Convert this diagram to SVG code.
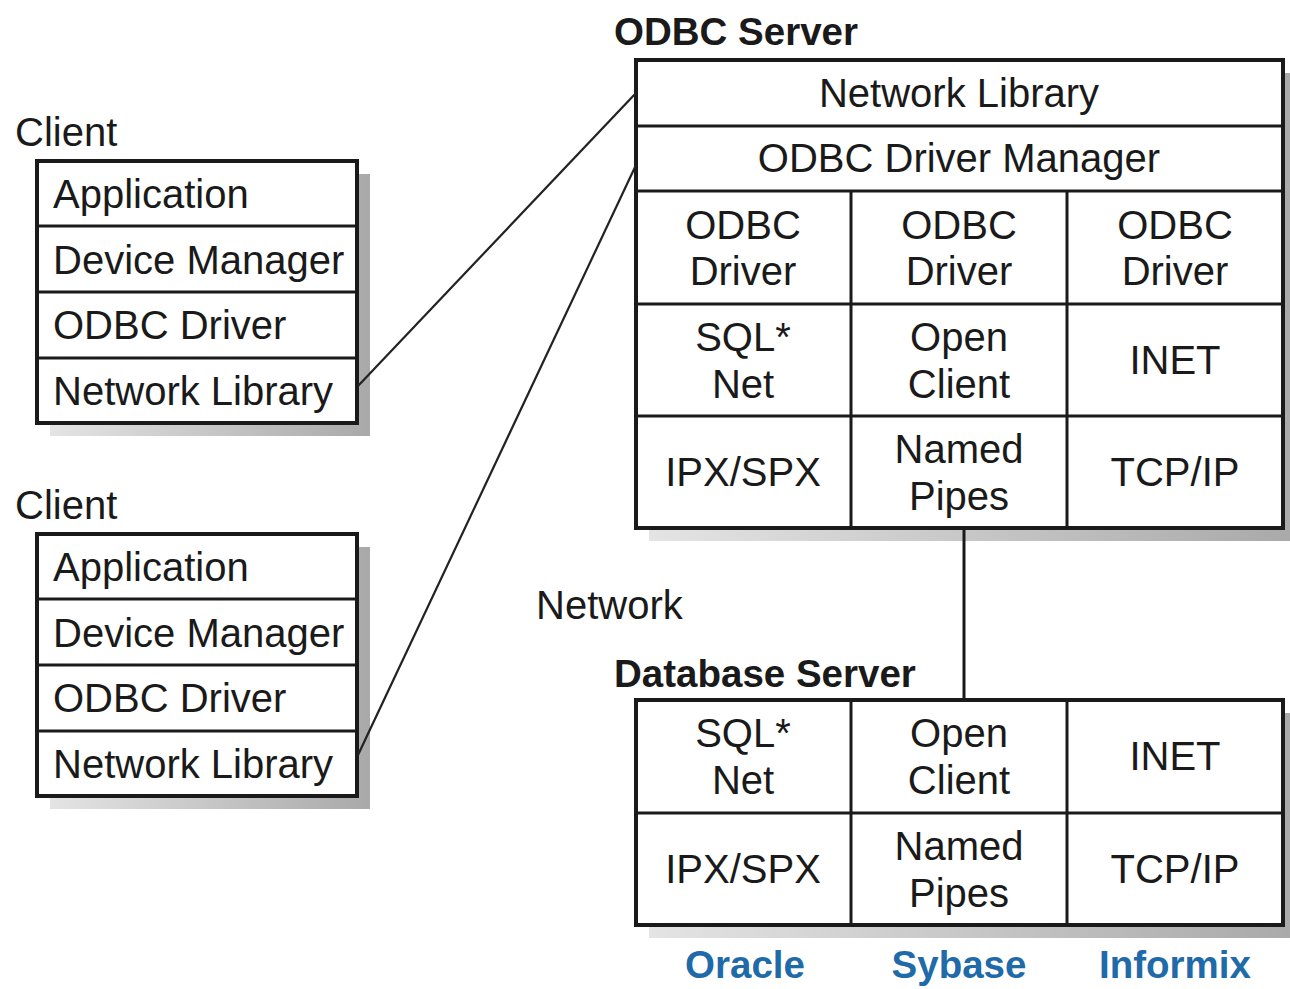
<svg xmlns="http://www.w3.org/2000/svg" width="1290" height="989" viewBox="0 0 1290 989">
<style>
.t{font-family:"Liberation Sans",Arial,sans-serif;font-size:40px;fill:#1a1a1a}
.c{text-anchor:middle}
.b{font-family:"Liberation Sans",Arial,sans-serif;font-size:38.5px;font-weight:bold;fill:#1a1a1a}
.blue{font-family:"Liberation Sans",Arial,sans-serif;font-size:38.5px;font-weight:bold;fill:#1f6aa8;text-anchor:middle}
.box{fill:#fff;stroke:#1a1a1a;stroke-width:4}
.ln{stroke:#1a1a1a;stroke-width:3;fill:none}
.conn{stroke:#222;stroke-width:2.2;fill:none}
</style>
<defs>
<linearGradient id="sh" x1="0" y1="0" x2="1" y2="0">
<stop offset="0" stop-color="#e4e4e4"/>
<stop offset="1" stop-color="#a9a9a9"/>
</linearGradient>
</defs>
<rect width="1290" height="989" fill="#fff"/>

<g id="client1">
<text class="t" x="15" y="146">Client</text>
<rect x="50" y="174" width="320" height="262" fill="url(#sh)"/>
<rect class="box" x="37" y="161" width="320" height="262"/>
<line class="ln" x1="37" y1="226" x2="357" y2="226"/>
<line class="ln" x1="37" y1="292" x2="357" y2="292"/>
<line class="ln" x1="37" y1="358" x2="357" y2="358"/>
<text class="t" x="53" y="208">Application</text>
<text class="t" x="53" y="274">Device Manager</text>
<text class="t" x="53" y="339">ODBC Driver</text>
<text class="t" x="53" y="405">Network Library</text>
</g>

<g id="client2">
<text class="t" x="15" y="519">Client</text>
<rect x="50" y="547" width="320" height="262" fill="url(#sh)"/>
<rect class="box" x="37" y="534" width="320" height="262"/>
<line class="ln" x1="37" y1="599" x2="357" y2="599"/>
<line class="ln" x1="37" y1="665" x2="357" y2="665"/>
<line class="ln" x1="37" y1="731" x2="357" y2="731"/>
<text class="t" x="53" y="581">Application</text>
<text class="t" x="53" y="647">Device Manager</text>
<text class="t" x="53" y="712">ODBC Driver</text>
<text class="t" x="53" y="778">Network Library</text>
</g>

<g id="odbc-server">
<text class="b" x="614" y="45">ODBC Server</text>
<rect x="649" y="73" width="647" height="468" fill="url(#sh)"/>
<rect class="box" x="636" y="60" width="647" height="468"/>
<line class="ln" x1="636" y1="126" x2="1283" y2="126"/>
<line class="ln" x1="636" y1="191" x2="1283" y2="191"/>
<line class="ln" x1="636" y1="304" x2="1283" y2="304"/>
<line class="ln" x1="636" y1="416" x2="1283" y2="416"/>
<line class="ln" x1="851" y1="191" x2="851" y2="528"/>
<line class="ln" x1="1067" y1="191" x2="1067" y2="528"/>
<text class="t c" x="959" y="107">Network Library</text>
<text class="t c" x="959" y="172">ODBC Driver Manager</text>
<text class="t c" x="743" y="239">ODBC</text>
<text class="t c" x="743" y="285">Driver</text>
<text class="t c" x="959" y="239">ODBC</text>
<text class="t c" x="959" y="285">Driver</text>
<text class="t c" x="1175" y="239">ODBC</text>
<text class="t c" x="1175" y="285">Driver</text>
<text class="t c" x="743" y="351">SQL*</text>
<text class="t c" x="743" y="398">Net</text>
<text class="t c" x="959" y="351">Open</text>
<text class="t c" x="959" y="398">Client</text>
<text class="t c" x="1175" y="374">INET</text>
<text class="t c" x="743" y="486">IPX/SPX</text>
<text class="t c" x="959" y="463">Named</text>
<text class="t c" x="959" y="510">Pipes</text>
<text class="t c" x="1175" y="486">TCP/IP</text>
</g>

<g id="network-label">
<text class="t" x="536" y="619">Network</text>
</g>

<g id="database-server">
<text class="b" x="614" y="687">Database Server</text>
<rect x="649" y="713" width="647" height="225" fill="url(#sh)"/>
<rect class="box" x="636" y="700" width="647" height="225"/>
<line class="ln" x1="636" y1="813" x2="1283" y2="813"/>
<line class="ln" x1="851" y1="700" x2="851" y2="925"/>
<line class="ln" x1="1067" y1="700" x2="1067" y2="925"/>
<text class="t c" x="743" y="747">SQL*</text>
<text class="t c" x="743" y="794">Net</text>
<text class="t c" x="959" y="747">Open</text>
<text class="t c" x="959" y="794">Client</text>
<text class="t c" x="1175" y="770">INET</text>
<text class="t c" x="743" y="883">IPX/SPX</text>
<text class="t c" x="959" y="860">Named</text>
<text class="t c" x="959" y="907">Pipes</text>
<text class="t c" x="1175" y="883">TCP/IP</text>
</g>

<g id="vendors">
<text class="blue" x="745" y="978">Oracle</text>
<text class="blue" x="959" y="978">Sybase</text>
<text class="blue" x="1175" y="978">Informix</text>
</g>

<g id="connectors">
<line class="conn" x1="358" y1="386" x2="636" y2="93"/>
<line class="conn" x1="358" y1="755" x2="636" y2="165"/>
<line class="ln" x1="964" y1="530" x2="964" y2="698"/>
</g>
</svg>
